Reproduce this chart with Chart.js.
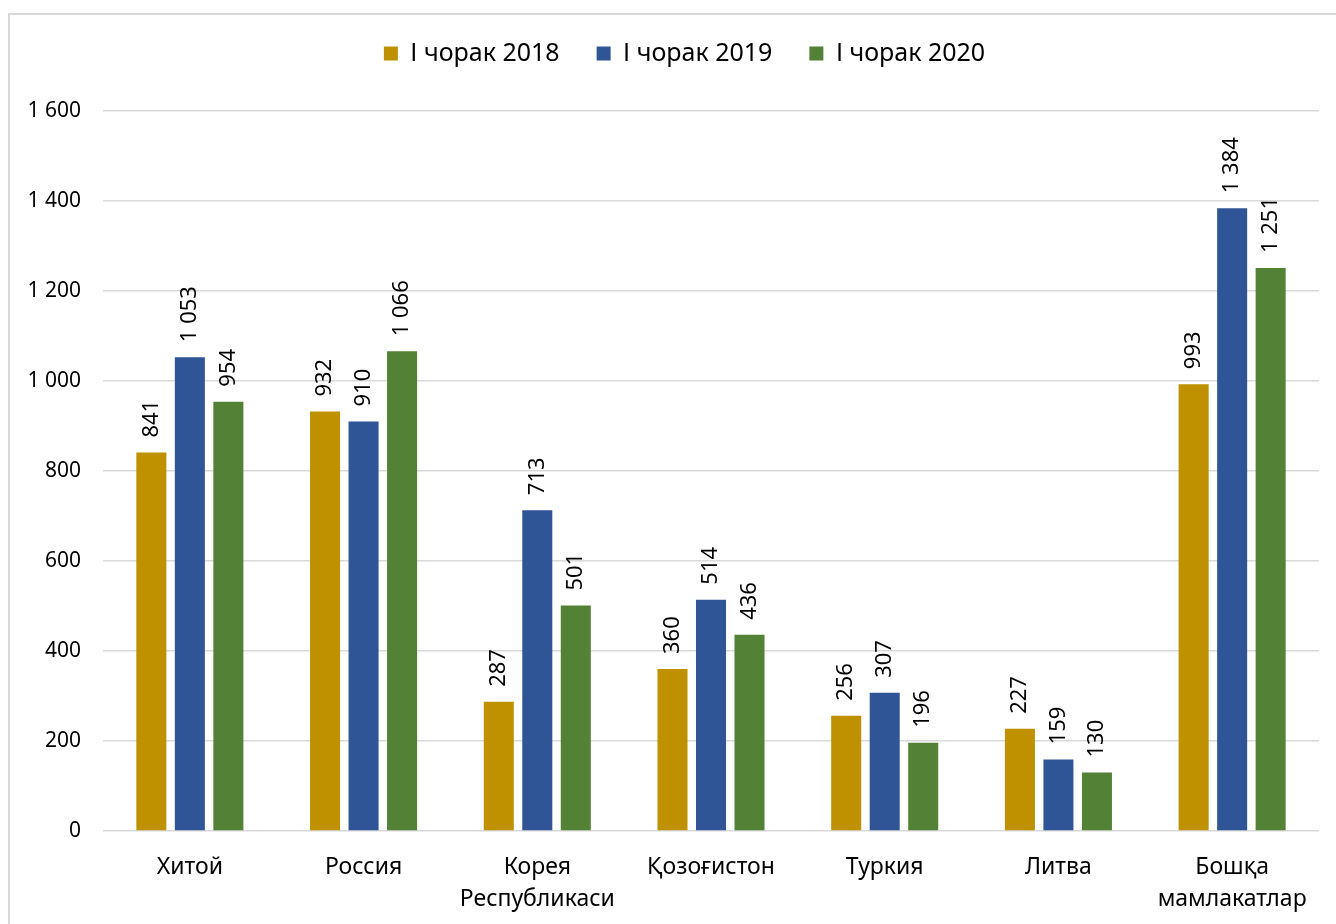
<!DOCTYPE html>
<html>
<head>
<meta charset="utf-8">
<script src="https://cdn.jsdelivr.net/npm/chart.js@4"></script>
<style>
  html, body { margin: 0; padding: 0; background: #fff; overflow: hidden; }
  #frame { position: absolute; left: 8px; top: 13px; width: 1400px; height: 1000px; border: 2px solid #d9d9d9; box-sizing: border-box; }
  #c { position: absolute; left: 0; top: 0; }
</style>
</head>
<body>
<div id="frame"></div>
<canvas id="c" width="1336" height="924"></canvas>
<script>
const categories = ['Хитой', 'Россия', ['Корея', 'Республикаси'], 'Қозоғистон', 'Туркия', 'Литва', ['Бошқа', 'мамлакатлар']];
const seriesNames = ['І чорак 2018', 'І чорак 2019', 'І чорак 2020'];
const values2018 = [841, 932, 287, 360, 256, 227, 993];
const values2019 = [1053, 910, 713, 514, 307, 159, 1384];
const values2020 = [954, 1066, 501, 436, 196, 130, 1251];
const yTicks = [0, 200, 400, 600, 800, 1000, 1200, 1400, 1600];

const FONT = '"Noto Sans", "DejaVu Sans", sans-serif';
const fmt = v => String(v).replace(/\B(?=(\d{3})+(?!\d))/g, ' ');

const labelPlugin = {
  id: 'barLabels',
  beforeLayout(chart) {
    const lg = chart.legend;
    if (lg && !lg._extraPatched) {
      const f = lg.fit;
      lg.fit = function () { f.call(this); this.height += 35; };
      lg._extraPatched = true;
    }
  },
  afterLayout(chart) {
    if (chart.legend) { chart.legend.left = 50; }
  },
  afterDatasetsDraw(chart) {
    const ctx = chart.ctx;
    ctx.save();
    ctx.fillStyle = '#000';
    ctx.font = '22px ' + FONT;
    ctx.textAlign = 'left';
    ctx.textBaseline = 'middle';
    chart.data.datasets.forEach((ds, di) => {
      const meta = chart.getDatasetMeta(di);
      meta.data.forEach((el, i) => {
        ctx.save();
        ctx.translate(el.x, el.y - 15);
        ctx.rotate(-Math.PI / 2);
        ctx.fillText(fmt(ds.data[i]), 0, 0);
        ctx.restore();
      });
    });
    ctx.restore();
  }
};

new Chart(document.getElementById('c'), {
  type: 'bar',
  data: {
    labels: categories,
    datasets: [
      { label: seriesNames[0], data: values2018, backgroundColor: '#BF9000' },
      { label: seriesNames[1], data: values2019, backgroundColor: '#2F5597' },
      { label: seriesNames[2], data: values2020, backgroundColor: '#538135' }
    ]
  },
  options: {
    responsive: false,
    animation: false,
    devicePixelRatio: 1,
    layout: { padding: { left: 0, right: 17, top: 4, bottom: 0 } },
    datasets: { bar: { categoryPercentage: 0.665, barPercentage: 0.78 } },
    plugins: {
      tooltip: { enabled: false },
      legend: {
        position: 'top',
        labels: {
          font: { family: FONT, size: 25 },
          color: '#000',
          boxWidth: 14,
          boxHeight: 14,
          padding: 37
        }
      }
    },
    scales: {
      x: {
        grid: { display: false },
        border: { display: false },
        ticks: { font: { family: FONT, size: 23, lineHeight: 1.4 }, color: '#000', padding: 12, maxRotation: 0 },
        afterFit(scale) { scale.height = 93; }
      },
      y: {
        min: 0, max: 1600,
        afterBuildTicks(scale) { scale.ticks = yTicks.map(v => ({ value: v })); },
        grid: { color: '#d9d9d9', lineWidth: 1.5, drawTicks: false },
        border: { display: false },
        ticks: { font: { family: FONT, size: 21 }, color: '#000', padding: 22, callback: v => fmt(v) },
        afterFit(scale) { scale.width = 103; }
      }
    }
  },
  plugins: [labelPlugin]
});
</script>
</body>
</html>
